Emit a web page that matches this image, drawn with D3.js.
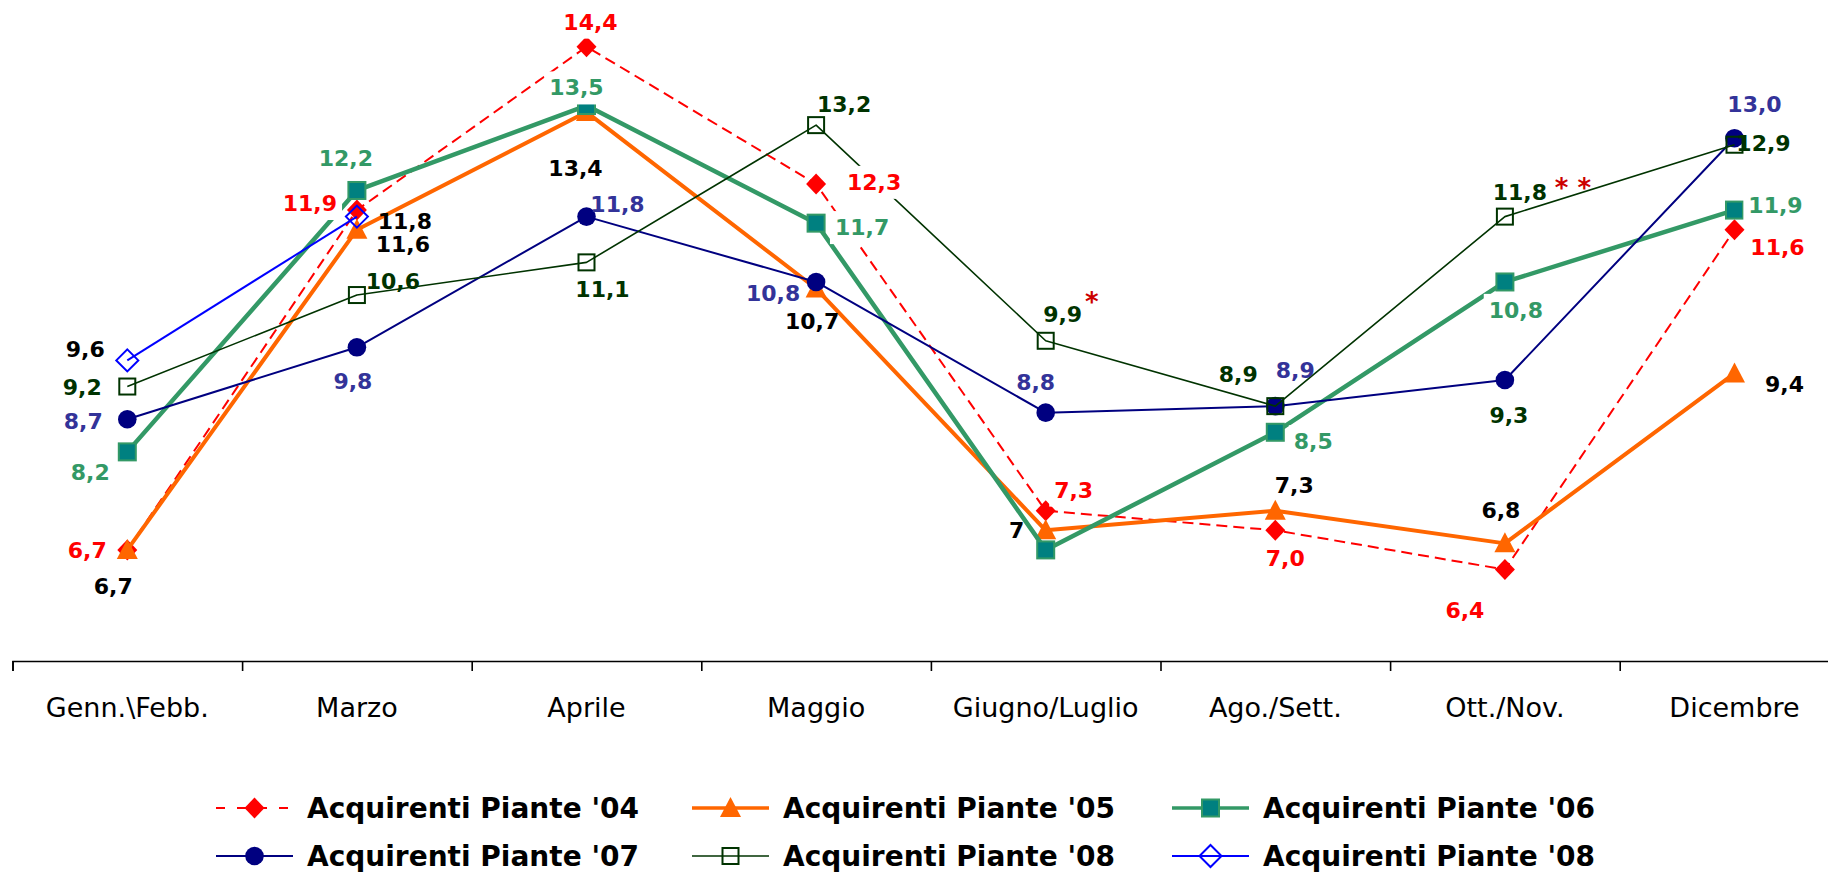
<!DOCTYPE html>
<html>
<head>
<meta charset="utf-8">
<script src="https://cdn.jsdelivr.net/npm/d3@7"></script>
<style>
    body { margin: 0; background: #fff; }
    svg { display: block; font-family: "DejaVu Sans", Verdana, sans-serif; }
</style>
</head>
<body>
<div id="chart"></div>
<script>

//////////
// DATA //
//////////

var months = ['Genn.\\Febb.', 'Marzo', 'Aprile', 'Maggio', 'Giugno/Luglio', 'Ago./Sett.', 'Ott./Nov.', 'Dicembre'];

var seriesNames = ["Acquirenti Piante '04", "Acquirenti Piante '05", "Acquirenti Piante '06",
                   "Acquirenti Piante '07", "Acquirenti Piante '08", "Acquirenti Piante '08"];

var piante04 = [6.7, 11.9, 14.4, 12.3, 7.3, 7.0, 6.4, 11.6];
var piante05 = [6.7, 11.6, 13.4, 10.7, 7.0, 7.3, 6.8, 9.4];
var piante06 = [8.2, 12.2, 13.5, 11.7, 6.7, 8.5, 10.8, 11.9];
var piante07 = [8.7, 9.8, 11.8, 10.8, 8.8, 8.9, 9.3, 13.0];
var piante08 = [9.2, 10.6, 11.1, 13.2, 9.9, 8.9, 11.8, 12.9];
var piante08b = [9.6, 11.8, null, null, null, null, null, null];

var valueDomain = [5, 15];

// asterisks next to some '08 values (series index, month index)
var notes = [
    { text: '*', series: 4, month: 4 },
    { text: '* *', series: 4, month: 6 }
];

//////////////////////////
// LABEL PLACEMENT (px) //
//////////////////////////

// offset of each label's centre from its point; null = no label
var off04 = [[-40, 0], [-47, -7], [4, -25], [58, -2], [28, -21], [10, 28], [-40, 41], [43, 17]];
var off05 = [[-14, 36], [46, 14], [-11, 56], [-4, 33], [-29, 0], [19, -26], [-4, -33], [50, 11]];
var off06 = [[-37, 20], [-11, -32], [-10, -18], [46, 4], null, [38, 9], [11, 28], [41, -5]];
var off07 = [[-44, 2], [-4, 34], [31, -13], [-43, 11], [-10, -31], [20, -36], [4, 35], [20, -34]];
var off08 = [[-45, 1], [36, -14], [16, 27], [28, -21], [17, -27], [-37, -32], [15, -25], [29, -2]];
var off08b = [[-42, -11], [48, 4]];
var noteOffsets = [[46, -46], [68, -36]];

//////////////////////
// INITIAL SETTINGS //
//////////////////////

var W = 1828,
    H = 872;

var plot = { left: 12.5, step: 229.6, top: 7.5, bottom: 661 };

var series = [
    { name: seriesNames[0], values: piante04, color: '#ff0000', width: 2, dash: '11,6',
      symbol: 'diamond', fill: '#ff0000', stroke: 'none', labelColor: '#ff0000', fmt: '.1f', offsets: off04, labelBg: true },
    { name: seriesNames[1], values: piante05, color: '#ff6600', width: 4, dash: null,
      symbol: 'triangle', fill: '#ff6600', stroke: 'none', labelColor: '#000000', fmt: '.1~f', offsets: off05 },
    { name: seriesNames[2], values: piante06, color: '#339966', width: 4.5, dash: null,
      symbol: 'square', fill: '#008080', stroke: '#339966', labelColor: '#339966', fmt: '.1f', offsets: off06, labelBg: true },
    { name: seriesNames[3], values: piante07, color: '#000080', width: 2, dash: null,
      symbol: 'circle', fill: '#000080', stroke: 'none', labelColor: '#333399', fmt: '.1f', offsets: off07,
      labelColorAt: { 6: '#003300' } },
    { name: seriesNames[4], values: piante08, color: '#003300', width: 1.6, dash: null,
      symbol: 'openSquare', fill: 'none', stroke: '#003300', labelColor: '#003300', fmt: '.1f', offsets: off08 },
    { name: seriesNames[5], values: piante08b, color: '#0000ff', width: 2, dash: null,
      symbol: 'openDiamond', fill: 'none', stroke: '#0000ff', labelColor: '#000000', fmt: '.1f', offsets: off08b }
];

//////////////////
// CREATING SVG //
//////////////////

var svg = d3.select('#chart')
    .append('svg')
    .attr('width', W)
    .attr('height', H);

svg.append('rect')
    .attr('width', W)
    .attr('height', H)
    .attr('fill', '#fff');

////////////
// SCALES //
////////////

var x = d3.scaleBand()
    .domain(months)
    .range([plot.left, plot.left + plot.step * months.length]);

var xEdges = d3.scaleLinear()
    .domain([0, months.length])
    .range(x.range());

var y = d3.scaleLinear()
    .domain(valueDomain)
    .range([plot.bottom, plot.top]);

function cx(i) { return x(months[i]) + x.bandwidth() / 2; }

//////////
// AXIS //
//////////

svg.append('g')
    .attr('transform', 'translate(0,' + plot.bottom + ')')
    .call(d3.axisBottom(xEdges)
        .tickValues(d3.range(0, months.length + 1))
        .tickSize(10)
        .tickSizeOuter(10)
        .tickFormat(''))
    .call(function(g) {
        g.selectAll('path, line').attr('stroke', '#000').attr('stroke-width', 1.6);
    });

svg.append('g')
    .attr('transform', 'translate(0,' + plot.bottom + ')')
    .call(d3.axisBottom(x).tickSize(0).tickPadding(37))
    .attr('font-family', '"DejaVu Sans", Verdana, sans-serif')
    .attr('font-size', 27)
    .call(function(g) {
        g.select('.domain').remove();
        g.selectAll('text').attr('fill', '#000');
    });

/////////////
// SYMBOLS //
/////////////

function drawSymbol(g, s, px, py) {
    if (s.symbol === 'diamond') {
        g.append('path').attr('d', 'M0,-10.5L10,0L0,10.5L-10,0Z')
            .attr('transform', 'translate(' + px + ',' + py + ')').attr('fill', s.fill);
    } else if (s.symbol === 'triangle') {
        g.append('path').attr('d', 'M0,-11L10.5,9L-10.5,9Z')
            .attr('transform', 'translate(' + px + ',' + py + ')').attr('fill', s.fill);
    } else if (s.symbol === 'square') {
        g.append('rect').attr('x', px - 8.5).attr('y', py - 8.5).attr('width', 17).attr('height', 17)
            .attr('fill', s.fill).attr('stroke', s.stroke).attr('stroke-width', 2);
    } else if (s.symbol === 'circle') {
        g.append('circle').attr('cx', px).attr('cy', py).attr('r', 9.3).attr('fill', s.fill);
    } else if (s.symbol === 'openSquare') {
        g.append('rect').attr('x', px - 8).attr('y', py - 8).attr('width', 16).attr('height', 16)
            .attr('fill', 'none').attr('stroke', s.stroke).attr('stroke-width', 2);
    } else if (s.symbol === 'openDiamond') {
        g.append('path').attr('d', 'M0,-11L11,0L0,11L-11,0Z')
            .attr('transform', 'translate(' + px + ',' + py + ')')
            .attr('fill', 'none').attr('stroke', s.stroke).attr('stroke-width', 2);
    }
}

///////////
// LINES //
///////////

var line = d3.line()
    .defined(function(d) { return d != null; })
    .x(function(d, i) { return cx(i); })
    .y(function(d) { return y(d); });

var marks = svg.append('g');

series.forEach(function(s) {
    var g = marks.append('g');
    g.append('path')
        .datum(s.values)
        .attr('d', line)
        .attr('fill', 'none')
        .attr('stroke', s.color)
        .attr('stroke-width', s.width)
        .attr('stroke-dasharray', s.dash)
        .attr('stroke-linejoin', 'round');
    s.values.forEach(function(v, i) {
        if (v == null) return;
        drawSymbol(g, s, cx(i), y(v));
    });
});

////////////
// LABELS //
////////////

var labels = svg.append('g')
    .attr('font-weight', 'bold')
    .attr('font-size', 22)
    .attr('text-anchor', 'middle');

series.forEach(function(s) {
    var fmt = d3.format(s.fmt);
    s.values.forEach(function(v, i) {
        if (v == null || !s.offsets[i]) return;
        var o = s.offsets[i];
        var tx = cx(i) + o[0],
            ty = y(v) + o[1];
        var t = labels.append('text')
            .attr('x', tx)
            .attr('y', ty)
            .attr('dy', '0.36em')
            .attr('fill', (s.labelColorAt && s.labelColorAt[i]) || s.labelColor)
            .text(fmt(v).replace('.', ','));
        if (s.labelBg) {
            var b = t.node().getBBox();
            labels.insert('rect', function() { return t.node(); })
                .attr('x', b.x - 5)
                .attr('y', b.y - 4)
                .attr('width', b.width + 10)
                .attr('height', b.height + 8)
                .attr('fill', '#fff');
        }
    });
});

notes.forEach(function(n, k) {
    var s = series[n.series];
    labels.append('text')
        .attr('x', cx(n.month) + noteOffsets[k][0])
        .attr('y', y(s.values[n.month]) + noteOffsets[k][1])
        .attr('dy', '0.62em')
        .attr('font-size', 26)
        .attr('fill', '#cc0000')
        .text(n.text);
});

////////////
// LEGEND //
////////////

var legendCols = [216, 692, 1172],
    legendRows = [808, 856],
    legendLine = 77;

var legend = svg.append('g');

series.forEach(function(s, k) {
    var lx = legendCols[k % 3],
        ly = legendRows[Math.floor(k / 3)];
    var g = legend.append('g');
    g.append('line')
        .attr('x1', lx).attr('x2', lx + legendLine)
        .attr('y1', ly).attr('y2', ly)
        .attr('stroke', s.color)
        .attr('stroke-width', Math.min(s.width, 3.5))
        .attr('stroke-dasharray', s.dash ? '9,12' : null);
    drawSymbol(g, s, lx + legendLine / 2, ly);
    g.append('text')
        .attr('x', lx + 91)
        .attr('y', ly)
        .attr('dy', '0.36em')
        .attr('font-size', 28)
        .attr('font-weight', 'bold')
        .attr('fill', '#000')
        .text(s.name);
});

</script>
</body>
</html>
